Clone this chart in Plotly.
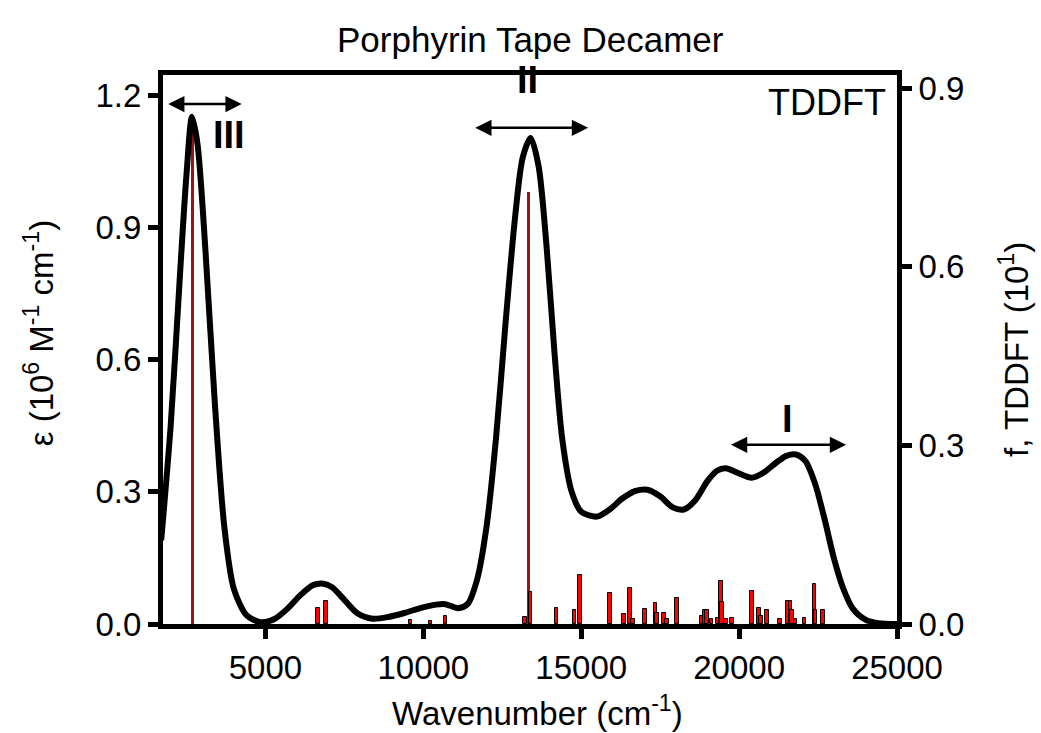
import plotly.graph_objects as go

# Simulated absorption envelope (epsilon, 10^6 M^-1 cm^-1) vs wavenumber (cm^-1)
curve_wn = [1700, 2000, 2300, 2500, 2676, 2850, 3100, 3400, 3700, 4000, 4400, 4850,
            5300, 5700, 6100, 6500, 6800, 7100, 7500, 7900, 8400, 8900, 9400, 9900,
            10400, 10700, 11100, 11400, 11700, 12000, 12300, 12600, 12900, 13150, 13400,
            13650, 13900, 14150, 14400, 14700, 15000, 15500, 15900, 16300, 16700, 17100,
            17500, 17900, 18250, 18600, 19000, 19300, 19580, 19900, 20400, 20800, 21200,
            21500, 21800, 22100, 22400, 22700, 23000, 23300, 23600, 24000, 24400, 25000]
curve_eps = [0.19, 0.45, 0.80, 1.02, 1.152, 1.09, 0.85, 0.50, 0.22, 0.08, 0.02, 0.004,
             0.012, 0.035, 0.065, 0.088, 0.092, 0.084, 0.055, 0.025, 0.012, 0.016, 0.025, 0.036,
             0.044, 0.045, 0.036, 0.045, 0.10, 0.22, 0.42, 0.68, 0.92, 1.06, 1.104,
             1.04, 0.86, 0.62, 0.42, 0.30, 0.255, 0.244, 0.26, 0.285, 0.302, 0.305,
             0.29, 0.265, 0.26, 0.28, 0.325, 0.348, 0.354, 0.345, 0.332, 0.345, 0.368,
             0.382, 0.385, 0.37, 0.32, 0.24, 0.15, 0.08, 0.035, 0.01, 0.002, 0.0]

# TDDFT oscillator strengths (f / 10) vs excitation wavenumber (cm^-1)
stick_wn = [2676, 6666, 6919, 9592, 10226, 10700, 13212, 13317, 13392, 14216, 14786,
            14954, 15904, 16348, 16537, 16632, 17012, 17351, 17402, 17613, 17718, 18035,
            18827, 18903, 18987, 19126, 19325, 19420, 19452, 19588, 19778, 20411, 20623,
            20696, 20877, 21299, 21553, 21630, 21680, 21785, 22070, 22387, 22418, 22659]
stick_f = [0.855, 0.027, 0.038, 0.006, 0.005, 0.014, 0.011, 0.726, 0.053, 0.027, 0.023,
           0.082, 0.052, 0.017, 0.061, 0.009, 0.026, 0.036, 0.019, 0.018, 0.008, 0.044,
           0.013, 0.024, 0.024, 0.009, 0.010, 0.072, 0.037, 0.008, 0.010, 0.055, 0.027,
           0.013, 0.023, 0.008, 0.038, 0.038, 0.024, 0.008, 0.010, 0.068, 0.024, 0.024]

x_ticks = [5000, 10000, 15000, 20000, 25000]
eps_ticks = [0.0, 0.3, 0.6, 0.9, 1.2]
f_ticks = [0.0, 0.3, 0.6, 0.9]

FONT = "Liberation Sans, Arial, sans-serif"

# strong transitions are drawn as thin dark-red lines, weak ones as outlined red bars
strong = [f > 0.5 for f in stick_f]
bar_w = [95 if s else 120 for s in strong]
bar_c = ["#9a1414" if s else "#ff0000" for s in strong]
bar_lw = [0 if s else 1 for s in strong]

fig = go.Figure()
fig.add_trace(go.Bar(
    x=stick_wn, y=stick_f, width=bar_w, yaxis="y",
    marker=dict(color=bar_c, line=dict(color="black", width=bar_lw)),
    showlegend=False,
))
fig.add_trace(go.Scatter(
    x=curve_wn, y=curve_eps, yaxis="y2", mode="lines",
    line=dict(color="black", width=6, shape="spline", smoothing=0.8),
    showlegend=False,
))

axis_common = dict(
    showline=True, linecolor="black", linewidth=5,
    ticks="outside", ticklen=10, tickwidth=5, tickcolor="black",
    showgrid=False, zeroline=False,
    tickfont=dict(family=FONT, size=33, color="black"),
)

fig.update_layout(
    width=1041, height=733,
    margin=dict(l=163, r=144, t=75, b=109),
    paper_bgcolor="white", plot_bgcolor="white",
    bargap=0,
    xaxis=dict(range=[1757, 25000], tickvals=x_ticks,
               ticktext=[str(v) for v in x_ticks], mirror=True, **axis_common),
    yaxis=dict(range=[0, 0.922], tickvals=f_ticks,
               ticktext=[f"{v:.1f}" for v in f_ticks], side="right", **axis_common),
    yaxis2=dict(range=[0, 1.247], tickvals=eps_ticks,
                ticktext=[f"{v:.1f}" for v in eps_ticks], side="left",
                overlaying="y", anchor="x", **axis_common),
    font=dict(family=FONT, color="black"),
)

annotations = [
    dict(text="Porphyrin Tape Decamer", x=0.5, y=1.0, yanchor="bottom", yshift=14,
         xref="paper", yref="paper", showarrow=False, font=dict(size=35)),
    dict(text="Wavenumber (cm<sup>-1</sup>)", x=0.51, y=-0.158, yanchor="middle",
         xref="paper", yref="paper", showarrow=False, font=dict(size=33)),
    dict(text="ε (10<sup>6</sup> M<sup>-1</sup> cm<sup>-1</sup>)", x=-0.2, y=0.53,
         xref="paper", yref="paper", textangle=-90, showarrow=False, font=dict(size=33)),
    dict(text="f, TDDFT (10<sup>1</sup>)", x=1.19, y=0.5, xref="paper", yref="paper",
         textangle=-90, showarrow=False, font=dict(size=33)),
    dict(text="TDDFT", x=24720, y=1.185, xref="x", yref="y2", xanchor="right",
         showarrow=False, font=dict(size=36)),
    dict(text="<b>III</b>", x=3840, y=1.11, xref="x", yref="y2",
         showarrow=False, font=dict(size=38)),
    dict(text="<b>II</b>", x=13300, y=1.235, xref="x", yref="y2",
         showarrow=False, font=dict(size=38)),
    dict(text="<b>I</b>", x=21540, y=0.465, xref="x", yref="y2",
         showarrow=False, font=dict(size=38)),
]
# double-headed band markers
for x0, x1, yv in [(1874, 4249, 1.181), (11597, 15217, 1.127), (19695, 23388, 0.407)]:
    annotations.append(dict(
        x=x1, y=yv, ax=x0, ay=yv, xref="x", yref="y2", axref="x", ayref="y2",
        text="", showarrow=True, arrowhead=2, startarrowhead=2, arrowside="end+start",
        arrowsize=1.3, startarrowsize=1.3, arrowwidth=2.5, arrowcolor="black",
    ))
fig.update_layout(annotations=annotations)

fig.write_html("out.html")
